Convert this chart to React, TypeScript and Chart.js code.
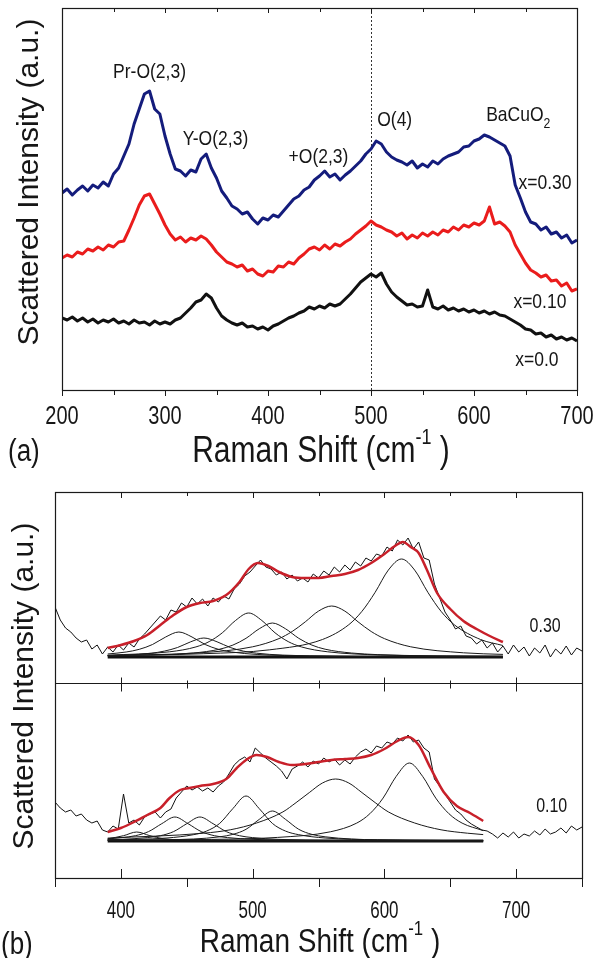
import React, { useEffect, useRef } from "react";
import { Chart, registerables } from "chart.js";

Chart.register(...registerables);

const FONT = "'Liberation Sans', Arial, sans-serif";

// ---------------- Panel (a) ----------------
const shiftStartA = 200;
const shiftStepA = 5;
const intensityA030 = [
  197, 201, 195, 200, 204, 199, 205, 202, 208, 204,
  216, 222, 234, 246, 266, 281, 296, 299, 281, 276,
  254, 236, 221, 219, 214, 220, 218, 231, 236, 222,
  212, 199, 192, 184, 181, 176, 178, 171, 166, 172,
  170, 175, 173, 179, 185, 191, 194, 200, 203, 210,
  214, 219, 213, 216, 210, 215, 219, 224, 229, 236,
  241, 249, 246, 238, 233, 230, 228, 225, 229, 222,
  226, 223, 229, 226, 231, 234, 236, 238, 243, 244,
  249, 251, 255, 253, 250, 247, 244, 234, 205, 192,
  178, 168, 166, 160, 163, 156, 158, 152, 155, 147,
  150,
];
const intensityA010 = [
  132, 135, 133, 138, 136, 141, 139, 143, 140, 145,
  143, 148, 149, 160, 172, 185, 194, 196, 186, 176,
  165, 156, 150, 153, 148, 152, 150, 154, 151, 145,
  138, 133, 128, 126, 123, 125, 119, 121, 116, 114,
  119, 118, 124, 123, 128, 126, 132, 136, 141, 143,
  140, 145, 141, 146, 144, 148, 151, 156, 160, 164,
  169, 165, 163, 160, 158, 154, 157, 151, 155, 152,
  157, 154, 158, 155, 160, 158, 163, 160, 165, 163,
  167, 165, 169, 183, 166, 168, 164, 158, 145, 136,
  127, 120, 117, 113, 115, 109, 110, 104, 107, 99,
  101,
];
const intensityA000 = [
  72, 70, 73, 69, 72, 68, 71, 67, 70, 68,
  71, 67, 69, 66, 70, 67, 68, 65, 69, 66,
  68, 66, 70, 72, 77, 82, 88, 90, 96, 92,
  82, 74, 70, 67, 65, 67, 63, 64, 61, 63,
  60, 64, 66, 69, 72, 74, 77, 79, 83, 81,
  84, 82, 86, 84, 86, 91, 96, 102, 108, 112,
  116, 113, 117, 106, 98, 93, 89, 85, 86, 83,
  84, 100, 83, 81, 84, 80, 82, 79, 81, 78,
  80, 77, 79, 76, 78, 75, 74, 71, 68, 65,
  61, 60, 56, 57, 53, 55, 51, 53, 50, 52,
  49,
];
const ticksA = [200, 300, 400, 500, 600, 700];
const minorTicksA = [250, 350, 450, 550, 650];
const markerShiftA = 500;
const annotationsA = [
  { text: "Pr-O(2,3)", sub: "", x: 285, y: 318 },
  { text: "Y-O(2,3)", sub: "", x: 349, y: 251 },
  { text: "+O(2,3)", sub: "", x: 449, y: 233 },
  { text: "O(4)", sub: "", x: 523, y: 270 },
  { text: "BaCuO", sub: "2", x: 643, y: 275 },
  { text: "x=0.30", sub: "", x: 669, y: 207 },
  { text: "x=0.10", sub: "", x: 664, y: 88 },
  { text: "x=0.0", sub: "", x: 661, y: 30 },
];

// ---------------- Panel (b) ----------------
const shiftStartB = 350;
const shiftStepB = 4;
const dataB030 = [
  271, 258, 250, 246, 240, 236, 238, 229, 233, 224,
  231, 226, 233, 228, 235, 231, 239, 244, 250, 256,
  262, 258, 268, 266, 275, 271, 280, 274, 279, 272,
  280, 276, 282, 279, 289, 294, 302, 306, 312, 318,
  311, 309, 303, 306, 299, 303, 297, 300, 296, 304,
  300, 307, 303, 311, 306, 313, 308, 316, 312, 320,
  317, 324, 322, 331, 327, 338, 333, 340, 329, 336,
  320, 318, 294, 280, 266, 258, 249, 252, 242, 240,
  234, 238, 230, 235, 226, 232, 224, 233, 226, 231,
  222, 230, 225, 233, 221, 229, 224, 232, 223, 230,
  227,
];
const dataB010 = [
  76, 70, 66, 68, 62, 64, 58, 55, 57, 48,
  46, 52, 49, 84, 55, 58, 53, 61, 64, 66,
  60, 66, 69, 80, 86, 92, 88, 91, 87, 90,
  86, 92, 96, 104, 113, 118, 121, 116, 130, 125,
  120, 116, 112, 107, 99, 109, 112, 116, 111, 117,
  114, 120, 116, 119, 113, 118, 114, 121, 126, 129,
  125, 132, 130, 136, 134, 140, 137, 143, 136, 138,
  130, 126, 99, 92, 84, 76, 68, 64, 58, 54,
  51, 48, 47, 44, 40, 45, 41, 46, 40, 44,
  42, 47, 43, 49, 44, 46, 50, 45, 52, 48,
  51,
];
const fitShiftB030 = [390, 400, 410, 420, 430, 440, 450, 460, 470, 480, 490, 497, 504, 512, 520, 530, 540, 550, 560, 570, 580, 590, 600, 608, 614, 620, 626, 632, 640, 650, 660, 670, 680, 690];
const fitB030 = [230, 233, 237, 243, 253, 263, 271, 275, 277, 283, 296, 309, 315, 312, 306, 301, 300, 300, 302, 304, 308, 315, 324, 332, 336, 331, 325, 309, 285, 269, 257, 249, 242, 236];
const fitShiftB010 = [390, 400, 410, 420, 430, 437, 445, 452, 460, 470, 480, 488, 495, 503, 511, 520, 530, 540, 550, 560, 570, 580, 590, 600, 610, 618, 626, 635, 645, 655, 665, 675];
const fitB010 = [46, 50, 56, 63, 70, 80, 88, 90, 92, 94, 99, 110, 118, 123, 121, 116, 113, 114, 116, 118, 119, 120, 123, 129, 137, 141, 133, 110, 86, 72, 65, 57];
const baselineShiftB030 = [390, 690];
const baselineB030 = [221, 221];
const baselineShiftB010 = [390, 675];
const baselineB010 = [37, 37];

// fitted component peaks, x = 0.30
const peak030a = { x: [390, 404, 414, 424, 434, 444, 454, 464, 474, 484, 504, 544, 594, 690], y: [224, 226, 228.7, 233.5, 241, 246, 241, 233.5, 228.7, 226, 223.5, 222, 221.4, 221.2] };
const peak030b = { x: [390, 403, 423, 433, 443, 453, 463, 473, 483, 493, 503, 523, 563, 613, 690], y: [222.3, 222.9, 224.8, 226.9, 230.5, 236.2, 240, 236.2, 230.5, 226.9, 224.8, 222.9, 221.7, 221.3, 221.2] };
const peak030c = { x: [390, 437, 457, 467, 477, 487, 497, 507, 517, 527, 537, 557, 597, 647, 690], y: [222.8, 226.2, 231.1, 236.4, 245.2, 257.5, 265, 257.5, 245.2, 236.4, 231.1, 226.2, 223, 221.9, 221.6] };
const peak030d = { x: [390, 455, 475, 485, 495, 505, 515, 525, 535, 545, 555, 575, 615, 665, 690], y: [222, 225, 228.8, 232.9, 239.7, 249.2, 255, 249.2, 239.7, 232.9, 228.8, 225, 222.6, 221.7, 221.5] };
const peak030e = { x: [390, 460, 500, 520, 530, 540, 550, 560, 570, 580, 590, 600, 620, 660, 690], y: [222.5, 225.2, 231.2, 239.4, 246.5, 256.2, 266.9, 272, 266.9, 256.2, 246.5, 239.4, 231.2, 225.2, 223.6] };
const peak030f = { x: [390, 463, 513, 553, 573, 583, 593, 603, 613, 623, 633, 643, 653, 673, 690], y: [222.5, 224.3, 228.2, 238.5, 253.3, 266.7, 285.7, 307.9, 319, 307.9, 285.7, 266.7, 253.3, 238.5, 232.5] };
// fitted component peaks, x = 0.10
const peak010a = { x: [390, 402, 412, 422, 432, 442, 462, 512, 675], y: [39.1, 42.3, 46, 42.3, 39.3, 38.3, 37.5, 37.1, 37] };
const peak010b = { x: [390, 401, 411, 421, 431, 441, 451, 461, 471, 481, 501, 541, 591, 675], y: [39.1, 40.4, 42.3, 46.4, 54.3, 61, 54.3, 46.4, 42.3, 40.4, 38.6, 37.6, 37.3, 37.1] };
const peak010c = { x: [390, 400, 420, 430, 440, 450, 460, 470, 480, 490, 500, 520, 560, 610, 675], y: [38.2, 38.6, 40.4, 42.3, 46.4, 54.3, 61, 54.3, 46.4, 42.3, 40.4, 38.6, 37.6, 37.3, 37.1] };
const peak010d = { x: [390, 435, 455, 465, 475, 485, 495, 505, 515, 525, 535, 555, 595, 645, 675], y: [38, 40, 43.3, 46.9, 54.6, 69.4, 82, 69.4, 54.6, 46.9, 43.3, 40, 38.1, 37.5, 37.4] };
const peak010e = { x: [390, 455, 475, 485, 495, 505, 515, 525, 535, 545, 555, 575, 615, 675], y: [37.5, 39, 41.2, 43.6, 48.7, 58.6, 67, 58.6, 48.7, 43.6, 41.2, 39, 37.8, 37.4] };
const peak010f = { x: [390, 463, 483, 503, 523, 533, 543, 553, 563, 573, 583, 593, 603, 623, 643, 663, 675], y: [39.9, 44.8, 48.2, 55, 66.1, 75.4, 85.4, 95, 99, 95, 85.4, 75.4, 66.1, 55, 48.2, 44.8, 43.4] };
const peak010g = { x: [390, 469, 519, 559, 579, 589, 599, 609, 619, 629, 639, 649, 659, 675], y: [37.7, 38.6, 40.6, 46.2, 54.9, 64.3, 79.9, 101.7, 115, 101.7, 79.9, 64.3, 54.9, 47.4] };
const peaksB030 = [peak030a, peak030b, peak030c, peak030d, peak030e, peak030f];
const peaksB010 = [peak010a, peak010b, peak010c, peak010d, peak010e, peak010f, peak010g];

const ticksB = [400, 500, 600, 700];
const minorTicksB = [350, 450, 550, 650, 750];
const dividerB = 195;
const labelsB = [
  { text: "0.30", x: 722, y: 253 },
  { text: "0.10", x: 727, y: 73 },
];

// ---------------- helpers ----------------
const gridPoints = (start: number, step: number, vals: number[]) =>
  vals.map((v, i) => ({ x: start + step * i, y: v }));
const pairPoints = (xs: number[], ys: number[]) => xs.map((x, i) => ({ x, y: ys[i] }));

type Part = { t: string; k?: number; dy?: number };

function richText(
  ctx: CanvasRenderingContext2D,
  parts: Part[],
  x: number,
  y: number,
  size: number,
  opts: { align?: string; sy?: number; rot?: number; baseline?: CanvasTextBaseline } = {}
) {
  const { align = "center", sy = 1, rot = 0, baseline = "alphabetic" } = opts;
  ctx.save();
  ctx.translate(x, y);
  if (rot) ctx.rotate(rot);
  ctx.scale(1, sy);
  ctx.fillStyle = "#161616";
  ctx.textBaseline = baseline;
  ctx.textAlign = "left";
  const widths = parts.map((p) => {
    ctx.font = `${size * (p.k || 1)}px ${FONT}`;
    return ctx.measureText(p.t).width;
  });
  const total = widths.reduce((a, b) => a + b, 0);
  let cx = align === "center" ? -total / 2 : align === "right" ? -total : 0;
  parts.forEach((p, i) => {
    ctx.font = `${size * (p.k || 1)}px ${FONT}`;
    ctx.fillText(p.t, cx, (p.dy || 0) * size);
    cx += widths[i];
  });
  ctx.restore();
}

function vline(ctx: CanvasRenderingContext2D, x: number, y1: number, y2: number) {
  const px = Math.round(x) + 0.5;
  ctx.beginPath();
  ctx.moveTo(px, y1);
  ctx.lineTo(px, y2);
  ctx.stroke();
}

// ---------------- plugins ----------------
const panelAPlugin = {
  id: "panelA",
  beforeDatasetsDraw(chart: any) {
    const ctx = chart.ctx as CanvasRenderingContext2D;
    const { top, bottom } = chart.chartArea;
    const px = chart.scales.x.getPixelForValue(markerShiftA);
    ctx.save();
    ctx.strokeStyle = "#333";
    ctx.lineWidth = 1;
    ctx.setLineDash([2, 2]);
    vline(ctx, px, top, bottom);
    ctx.restore();
  },
  afterDraw(chart: any) {
    const ctx = chart.ctx as CanvasRenderingContext2D;
    const { left, right, top, bottom } = chart.chartArea;
    const sx = chart.scales.x;
    const sy = chart.scales.y;
    ctx.save();
    ctx.strokeStyle = "#1a1a1a";
    ctx.lineWidth = 1.2;
    ctx.strokeRect(left + 0.5, top + 0.5, right - left, bottom - top);
    ctx.lineWidth = 1;
    ticksA.forEach((t) => {
      const p = sx.getPixelForValue(t);
      vline(ctx, p, bottom, bottom + 6);
      vline(ctx, p, top, top + 5);
    });
    minorTicksA.forEach((t) => {
      const p = sx.getPixelForValue(t);
      vline(ctx, p, bottom, bottom + 5);
      vline(ctx, p, top, top + 4);
    });
    ticksA.forEach((t) => {
      richText(ctx, [{ t: String(t) }], sx.getPixelForValue(t), 424, 20, { sy: 1.3 });
    });
    annotationsA.forEach((a) => {
      const parts: Part[] = [{ t: a.text }];
      if (a.sub) parts.push({ t: a.sub, k: 0.7, dy: 0.35 });
      richText(ctx, parts, sx.getPixelForValue(a.x), sy.getPixelForValue(a.y) + 6, 17.5, { sy: 1.2 });
    });
    richText(ctx, [{ t: "(a)" }], 8, 461, 26, { align: "left", sy: 1.2 });
    richText(
      ctx,
      [{ t: "Raman Shift (cm" }, { t: "-1", k: 0.6, dy: -0.5 }, { t: " )" }],
      321,
      462,
      30,
      { sy: 1.2 }
    );
    richText(ctx, [{ t: "Scattered Intensity (a.u.)" }], 30, 182, 30, {
      rot: -Math.PI / 2,
      baseline: "middle",
    });
    ctx.restore();
  },
};

const panelBPlugin = {
  id: "panelB",
  afterDraw(chart: any) {
    const ctx = chart.ctx as CanvasRenderingContext2D;
    const { left, right, top, bottom } = chart.chartArea;
    const sx = chart.scales.x;
    const sy = chart.scales.y;
    const mid = Math.round(sy.getPixelForValue(dividerB)) + 0.5;
    ctx.save();
    ctx.strokeStyle = "#1a1a1a";
    ctx.lineWidth = 1.2;
    ctx.strokeRect(left + 0.5, top + 0.5, right - left, bottom - top);
    ctx.beginPath();
    ctx.moveTo(left, mid);
    ctx.lineTo(right, mid);
    ctx.stroke();
    ctx.lineWidth = 1;
    ticksB.forEach((t) => {
      const p = sx.getPixelForValue(t);
      vline(ctx, p, top, top + 6);
      vline(ctx, p, mid - 6, mid + 8);
      vline(ctx, p, bottom - 9, bottom);
    });
    minorTicksB.forEach((t) => {
      const p = sx.getPixelForValue(t);
      vline(ctx, p, top, top + 4);
      vline(ctx, p, mid - 3, mid + 5);
      vline(ctx, p, bottom, bottom + 9);
    });
    ticksB.forEach((t) => {
      richText(ctx, [{ t: String(t) }], sx.getPixelForValue(t), 448, 17, { sy: 1.4 });
    });
    labelsB.forEach((l) => {
      richText(ctx, [{ t: l.text }], sx.getPixelForValue(l.x), sy.getPixelForValue(l.y) + 7, 16, { sy: 1.3 });
    });
    richText(ctx, [{ t: "(b)" }], 1, 484, 26, { align: "left", sy: 1.2 });
    richText(
      ctx,
      [{ t: "Raman Shift (cm" }, { t: "-1", k: 0.6, dy: -0.5 }, { t: " )" }],
      320,
      482,
      28,
      { sy: 1.2 }
    );
    richText(ctx, [{ t: "Scattered Intensity (a.u.)" }], 25, 216, 30, {
      rot: -Math.PI / 2,
      baseline: "middle",
    });
    ctx.restore();
  },
};

// ---------------- configs ----------------
const lineDs = (data: any[], color: string, width: number, smooth = false) => ({
  data,
  borderColor: color,
  backgroundColor: color,
  borderWidth: width,
  pointRadius: 0,
  fill: false,
  tension: 0,
  cubicInterpolationMode: smooth ? ("monotone" as const) : ("default" as const),
  borderJoinStyle: "round" as const,
});

function configA(): any {
  return {
    type: "line",
    data: {
      datasets: [
        lineDs(gridPoints(shiftStartA, shiftStepA, intensityA030), "#141c7c", 3),
        lineDs(gridPoints(shiftStartA, shiftStepA, intensityA010), "#ea1c1c", 3),
        lineDs(gridPoints(shiftStartA, shiftStepA, intensityA000), "#111111", 3),
      ],
    },
    options: {
      animation: false,
      responsive: false,
      devicePixelRatio: 1,
      layout: { padding: { left: 62, right: 17, top: 8, bottom: 80 } },
      plugins: { legend: { display: false }, tooltip: { enabled: false } },
      scales: {
        x: { type: "linear", min: 200, max: 700, display: false },
        y: { type: "linear", min: 0, max: 382, display: false },
      },
    },
    plugins: [panelAPlugin],
  };
}

function configB(): any {
  const datasets: any[] = [];
  datasets.push(lineDs(pairPoints(fitShiftB030, fitB030), "#c8202a", 2.5, true));
  datasets.push(lineDs(pairPoints(fitShiftB010, fitB010), "#c8202a", 2.5, true));
  peaksB030.forEach((p) => datasets.push(lineDs(pairPoints(p.x, p.y), "#1a1a1a", 1, true)));
  peaksB010.forEach((p) => datasets.push(lineDs(pairPoints(p.x, p.y), "#1a1a1a", 1, true)));
  datasets.push(lineDs(pairPoints(baselineShiftB030, baselineB030), "#111111", 3));
  datasets.push(lineDs(pairPoints(baselineShiftB010, baselineB010), "#111111", 3));
  datasets.push(lineDs(gridPoints(shiftStartB, shiftStepB, dataB030), "#111111", 1));
  datasets.push(lineDs(gridPoints(shiftStartB, shiftStepB, dataB010), "#111111", 1));
  return {
    type: "line",
    data: { datasets },
    options: {
      animation: false,
      responsive: false,
      devicePixelRatio: 1,
      layout: { padding: { left: 55, right: 12, top: 22, bottom: 80 } },
      plugins: { legend: { display: false }, tooltip: { enabled: false } },
      scales: {
        x: { type: "linear", min: 350, max: 750, display: false },
        y: { type: "linear", min: 0, max: 386, display: false },
      },
    },
    plugins: [panelBPlugin],
  };
}

export default function App() {
  const refA = useRef<HTMLCanvasElement>(null);
  const refB = useRef<HTMLCanvasElement>(null);
  useEffect(() => {
    const a = new Chart(refA.current as HTMLCanvasElement, configA());
    const b = new Chart(refB.current as HTMLCanvasElement, configB());
    return () => {
      a.destroy();
      b.destroy();
    };
  }, []);
  return (
    <div style={{ position: "absolute", left: 0, top: 0, width: 594, height: 958, background: "#fff" }}>
      <canvas
        ref={refA}
        width={594}
        height={470}
        style={{ position: "absolute", left: 0, top: 0, width: 594, height: 470 }}
      />
      <canvas
        ref={refB}
        width={594}
        height={488}
        style={{ position: "absolute", left: 0, top: 470, width: 594, height: 488 }}
      />
    </div>
  );
}
